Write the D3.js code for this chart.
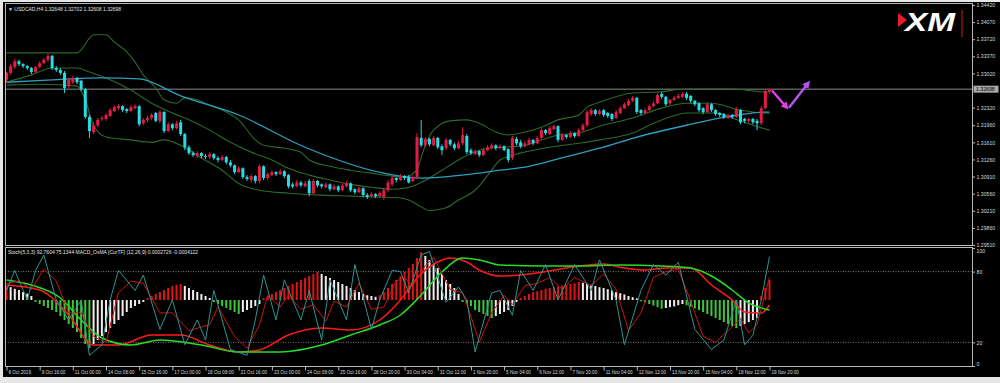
<!DOCTYPE html>
<html><head><meta charset="utf-8">
<script src="https://cdn.jsdelivr.net/npm/d3@7"></script>
<style>html,body{margin:0;padding:0;background:#e6e6e6;}svg{display:block;}</style>
</head><body><svg id="c" width="1000" height="383"></svg>
<script>
// ---------- DATA ----------
const symbolHeader = "USDCAD,H4 1.32648 1.32702 1.32608 1.32698";
const indicatorHeader = "Stoch(5,3,3) 92.7604 75.1344  MACD_OsMA [CurTF] (12,26,9) 0.0002726 -0.0004122";
const timeLabels = ["8 Oct 2019","9 Oct 16:00","11 Oct 00:00","14 Oct 08:00","15 Oct 16:00","17 Oct 00:00","18 Oct 08:00","21 Oct 16:00","23 Oct 00:00","24 Oct 08:00","25 Oct 16:00","28 Oct 20:00","30 Oct 04:00","31 Oct 12:00","1 Nov 20:00","5 Nov 04:00","6 Nov 12:00","7 Nov 20:00","11 Nov 04:00","12 Nov 12:00","13 Nov 20:00","15 Nov 04:00","18 Nov 12:00","19 Nov 20:00"];
const timeLabelBars = [0,8,16,24,32,40,48,56,64,72,80,88,96,104,112,120,128,136,144,152,160,168,176,184];
const priceTicks = [1.34420,1.34070,1.33720,1.33370,1.33020,1.32320,1.31960,1.31610,1.31260,1.30910,1.30560,1.30210,1.29860,1.29510];
const lastPrice = 1.32698;
const stochLevels = [20,80];
const stochTicks = [0,20,80,100];

const open = [1.3289,1.3303,1.3315,1.3327,1.3321,1.3317,1.3313,1.3305,1.3315,1.3323,
1.3330,1.3338,1.3313,1.3309,1.3303,1.3276,1.3284,1.3293,1.3287,1.3270,
1.3213,1.3182,1.3196,1.3209,1.3209,1.3215,1.3225,1.3231,1.3235,1.3229,
1.3225,1.3231,1.3235,1.3200,1.3207,1.3211,1.3221,1.3205,1.3223,1.3184,
1.3198,1.3190,1.3202,1.3178,1.3151,1.3139,1.3133,1.3139,1.3133,1.3131,
1.3137,1.3129,1.3125,1.3131,1.3120,1.3114,1.3100,1.3108,1.3090,1.3084,
1.3092,1.3082,1.3112,1.3088,1.3094,1.3100,1.3096,1.3102,1.3094,1.3075,
1.3071,1.3079,1.3071,1.3082,1.3057,1.3082,1.3075,1.3069,1.3075,1.3065,
1.3071,1.3063,1.3071,1.3077,1.3065,1.3059,1.3067,1.3053,1.3051,1.3055,
1.3051,1.3049,1.3063,1.3075,1.3088,1.3084,1.3092,1.3090,1.3082,1.3090,
1.3170,1.3155,1.3168,1.3155,1.3170,1.3153,1.3149,1.3166,1.3157,1.3149,
1.3159,1.3174,1.3145,1.3137,1.3143,1.3135,1.3145,1.3149,1.3155,1.3149,
1.3153,1.3147,1.3129,1.3168,1.3161,1.3153,1.3157,1.3166,1.3159,1.3170,
1.3186,1.3178,1.3188,1.3194,1.3166,1.3176,1.3172,1.3180,1.3174,1.3186,
1.3196,1.3219,1.3227,1.3219,1.3227,1.3221,1.3219,1.3211,1.3221,1.3231,
1.3237,1.3246,1.3252,1.3227,1.3221,1.3227,1.3235,1.3241,1.3260,1.3254,
1.3241,1.3248,1.3252,1.3254,1.3260,1.3256,1.3246,1.3241,1.3231,1.3223,
1.3239,1.3227,1.3221,1.3219,1.3211,1.3217,1.3213,1.3227,1.3209,1.3205,
1.3209,1.3205,1.3200,1.3231,1.32648];
const high = [1.3305,1.3321,1.3332,1.3330,1.3323,1.3319,1.3315,1.3317,1.3327,1.3334,
1.3342,1.3340,1.3317,1.3313,1.3307,1.3293,1.3297,1.3295,1.3289,1.3272,
1.3217,1.3202,1.3211,1.3215,1.3221,1.3231,1.3237,1.3239,1.3237,1.3231,
1.3237,1.3239,1.3237,1.3211,1.3215,1.3221,1.3223,1.3227,1.3225,1.3202,
1.3200,1.3205,1.3207,1.3180,1.3155,1.3143,1.3143,1.3141,1.3137,1.3141,
1.3139,1.3133,1.3135,1.3133,1.3125,1.3116,1.3112,1.3110,1.3094,1.3096,
1.3094,1.3116,1.3114,1.3100,1.3104,1.3102,1.3106,1.3104,1.3096,1.3079,
1.3084,1.3082,1.3082,1.3086,1.3086,1.3084,1.3077,1.3079,1.3077,1.3075,
1.3073,1.3077,1.3082,1.3079,1.3067,1.3071,1.3069,1.3057,1.3059,1.3057,
1.3061,1.3067,1.3084,1.3092,1.3090,1.3096,1.3094,1.3094,1.3094,1.3180,
1.3207,1.3172,1.3170,1.3174,1.3172,1.3157,1.3170,1.3168,1.3161,1.3164,
1.3192,1.3178,1.3149,1.3147,1.3145,1.3149,1.3155,1.3159,1.3157,1.3157,
1.3155,1.3149,1.3174,1.3172,1.3166,1.3164,1.3170,1.3168,1.3174,1.3190,
1.3188,1.3194,1.3198,1.3196,1.3180,1.3178,1.3184,1.3182,1.3190,1.3200,
1.3227,1.3231,1.3229,1.3229,1.3229,1.3223,1.3221,1.3227,1.3235,1.3243,
1.3250,1.3256,1.3254,1.3229,1.3231,1.3239,1.3246,1.3262,1.3264,1.3256,
1.3250,1.3256,1.3260,1.3264,1.3264,1.3258,1.3248,1.3243,1.3233,1.3243,
1.3241,1.3229,1.3223,1.3221,1.3219,1.3219,1.3233,1.3229,1.3211,1.3211,
1.3211,1.3209,1.3235,1.3270,1.32702];
const low = [1.3284,1.3299,1.3311,1.3317,1.3313,1.3309,1.3301,1.3303,1.3313,1.3321,
1.3325,1.3309,1.3305,1.3299,1.3262,1.3272,1.3280,1.3280,1.3266,1.3209,
1.3170,1.3178,1.3192,1.3205,1.3205,1.3213,1.3223,1.3227,1.3223,1.3221,
1.3223,1.3229,1.3194,1.3196,1.3202,1.3207,1.3202,1.3200,1.3180,1.3182,
1.3186,1.3188,1.3174,1.3145,1.3135,1.3131,1.3129,1.3129,1.3127,1.3127,
1.3125,1.3120,1.3123,1.3116,1.3110,1.3096,1.3098,1.3086,1.3082,1.3079,
1.3077,1.3077,1.3084,1.3084,1.3092,1.3092,1.3094,1.3088,1.3067,1.3067,
1.3069,1.3069,1.3069,1.3051,1.3055,1.3069,1.3067,1.3067,1.3061,1.3063,
1.3059,1.3061,1.3069,1.3059,1.3055,1.3057,1.3049,1.3045,1.3047,1.3047,
1.3049,1.3043,1.3059,1.3071,1.3079,1.3082,1.3084,1.3077,1.3079,1.3086,
1.3151,1.3151,1.3153,1.3153,1.3147,1.3135,1.3145,1.3153,1.3145,1.3147,
1.3155,1.3137,1.3135,1.3135,1.3131,1.3133,1.3143,1.3147,1.3145,1.3147,
1.3143,1.3120,1.3125,1.3155,1.3149,1.3151,1.3155,1.3155,1.3157,1.3168,
1.3176,1.3176,1.3186,1.3161,1.3164,1.3168,1.3170,1.3170,1.3172,1.3184,
1.3192,1.3215,1.3215,1.3217,1.3213,1.3211,1.3205,1.3209,1.3219,1.3229,
1.3235,1.3243,1.3219,1.3217,1.3219,1.3225,1.3233,1.3239,1.3250,1.3235,
1.3237,1.3246,1.3250,1.3252,1.3248,1.3241,1.3235,1.3223,1.3219,1.3221,
1.3223,1.3215,1.3213,1.3209,1.3209,1.3209,1.3211,1.3198,1.3200,1.3200,
1.3198,1.3186,1.3196,1.3229,1.32608];
const close = [1.3303,1.3317,1.3327,1.3321,1.3317,1.3313,1.3305,1.3315,1.3323,1.3330,
1.3338,1.3313,1.3309,1.3303,1.3272,1.3289,1.3293,1.3284,1.3270,1.3213,
1.3184,1.3196,1.3207,1.3211,1.3217,1.3227,1.3233,1.3235,1.3227,1.3225,
1.3233,1.3235,1.3198,1.3207,1.3211,1.3217,1.3205,1.3223,1.3184,1.3198,
1.3190,1.3200,1.3178,1.3151,1.3139,1.3135,1.3139,1.3133,1.3131,1.3137,
1.3129,1.3125,1.3131,1.3120,1.3114,1.3100,1.3108,1.3090,1.3086,1.3092,
1.3082,1.3112,1.3088,1.3096,1.3100,1.3096,1.3102,1.3092,1.3071,1.3071,
1.3079,1.3073,1.3077,1.3057,1.3082,1.3073,1.3071,1.3075,1.3065,1.3071,
1.3063,1.3073,1.3077,1.3063,1.3059,1.3067,1.3053,1.3049,1.3055,1.3051,
1.3057,1.3063,1.3079,1.3088,1.3084,1.3092,1.3088,1.3079,1.3090,1.3172,
1.3155,1.3168,1.3157,1.3170,1.3151,1.3145,1.3166,1.3157,1.3149,1.3159,
1.3176,1.3141,1.3139,1.3143,1.3135,1.3145,1.3151,1.3155,1.3149,1.3153,
1.3145,1.3125,1.3170,1.3159,1.3153,1.3159,1.3166,1.3159,1.3170,1.3186,
1.3180,1.3190,1.3194,1.3166,1.3176,1.3172,1.3180,1.3174,1.3186,1.3196,
1.3223,1.3227,1.3219,1.3225,1.3217,1.3215,1.3209,1.3223,1.3231,1.3239,
1.3246,1.3252,1.3223,1.3221,1.3227,1.3235,1.3241,1.3258,1.3254,1.3239,
1.3248,1.3252,1.3256,1.3260,1.3252,1.3246,1.3239,1.3227,1.3223,1.3239,
1.3227,1.3219,1.3217,1.3213,1.3217,1.3213,1.3229,1.3202,1.3205,1.3209,
1.3202,1.3200,1.3231,1.3266,1.32698];

// Bollinger bands (read at bar indices)
const bbUpperBars = [0,17,18,20,21,24,26,29,31,33,36,38,41,43,46,49,53,56,60,62,67,71,73,78,83,88,93,96,99,100,101,103,107,111,114,118,121,124,129,133,138,140,143,151,157,164,175,183,184];
const bbUpper = [1.3344,1.3344,1.3350,1.3374,1.3381,1.3381,1.3366,1.3346,1.3325,1.3299,1.3272,1.3248,1.3241,1.3252,1.3248,1.3237,1.3223,1.3207,1.3166,1.3155,1.3149,1.3141,1.3125,1.3112,1.3104,1.3098,1.3092,1.3090,1.3105,1.3130,1.3155,1.3186,1.3205,1.3207,1.3200,1.3182,1.3176,1.3180,1.3192,1.3207,1.3217,1.3233,1.3243,1.3262,1.3264,1.3270,1.3270,1.3264,1.3264];
const bbMiddleBars = [0,6,11,17,20,25,30,35,40,44,49,54,59,64,68,73,78,83,88,93,96,100,105,109,114,119,124,129,133,138,143,151,158,164,170,177,183,184];
const bbMiddle = [1.3284,1.3299,1.3313,1.3313,1.3305,1.3289,1.3268,1.3241,1.3221,1.3207,1.3186,1.3161,1.3141,1.3125,1.3108,1.3094,1.3084,1.3075,1.3069,1.3065,1.3067,1.3079,1.3104,1.3125,1.3145,1.3151,1.3153,1.3166,1.3176,1.3180,1.3194,1.3211,1.3231,1.3241,1.3241,1.3227,1.3221,1.3221];
const bbLowerBars = [0,8,17,19,21,24,30,35,38,42,47,52,56,61,68,76,83,90,95,97,100,102,106,109,113,117,119,124,131,138,143,151,156,160,164,171,175,180,184];
const bbLower = [1.3278,1.3280,1.3276,1.3248,1.3196,1.3172,1.3166,1.3161,1.3166,1.3155,1.3129,1.3104,1.3077,1.3063,1.3057,1.3053,1.3051,1.3049,1.3047,1.3043,1.3029,1.3021,1.3027,1.3043,1.3063,1.3104,1.3125,1.3139,1.3151,1.3159,1.3166,1.3180,1.3200,1.3213,1.3221,1.3221,1.3211,1.3196,1.3186];
// Moving average
const maBars = [0,11,23,32,42,56,72,91,100,105,112,119,126,133,143,153,164,175,183,184];
const maValues = [1.3284,1.3289,1.3293,1.3291,1.3256,1.3217,1.3151,1.3098,1.3088,1.3090,1.3096,1.3104,1.3112,1.3127,1.3149,1.3174,1.3196,1.3215,1.3223,1.3223];

// Stochastic (5,3,3)
const stochMainBars = [0,2,5,7,9,12,15,18,20,23,25,27,31,33,37,40,43,46,48,50,54,58,60,62,65,67,71,73,76,78,82,84,88,90,93,95,97,100,102,106,109,111,113,117,119,122,124,127,130,133,137,141,143,147,149,153,156,159,162,166,170,173,176,178,180,182,184];
const stochMain = [64,81,56,81,94,56,39,56,9,18,56,81,64,77,31,56,18,39,22,64,14,9,39,77,39,73,39,64,22,73,39,86,31,56,81,80,62,94,97,54,67,56,12,62,64,43,81,64,86,56,86,64,90,56,18,64,86,77,88,31,14,22,56,18,26,56,92.76];
const stochSignalBars = [0,3,6,9,12,15,18,21,24,27,30,33,37,40,44,47,49,51,55,58,61,63,66,68,71,74,77,79,82,85,88,91,94,96,98,101,103,107,110,112,114,117,120,122,125,128,131,134,137,141,144,147,150,153,156,159,162,165,168,171,174,177,179,181,184];
const stochSignal = [70,72,65,82,72,45,45,25,20,62,72,70,45,45,30,33,35,50,25,15,35,60,50,60,48,52,38,55,50,70,48,50,72,75,68,85,92,65,62,42,20,45,60,52,68,70,75,65,75,68,78,65,30,45,75,80,82,55,25,20,30,40,28,35,75.13];

// MACD (12,26,9), in 0.0001 units
const macdBars = [0,8,15,21,27,35,42,49,56,61,68,76,83,90,95,99,104,107,111,114,119,124,131,138,144,149,154,159,165,170,175,178,182,184];
const macdMain = [3.75,2.5,-3.75,-11.25,-11.25,-8.75,-8.75,-11.25,-13,-12.5,-8.75,-7,-7.5,-5,0,5.5,9.5,10.5,9.5,7.5,6,6.25,7.25,8.5,9,8,7.5,8,8,3.75,0,-3,-3.25,-1.25];
const macdSignalBars = [0,6,13,18,23,30,37,47,56,66,76,83,90,95,100,105,110,114,119,129,138,148,158,165,170,175,179,184];
const macdSignal = [5,3.75,0.5,-5,-9.5,-11.25,-10,-11.25,-13,-13,-11.25,-8.75,-6.25,-3.75,1.25,7,10.5,10,8.75,8.5,8.5,8.75,8.5,8,6,2.5,-0.75,-2.5];
// OsMA histogram per bar
const osma = [3.5,3.2,2.8,2.5,2.0,1.6,1.0,
-0.5,-1,-1.5,-2,-2.5,-3,-4,-5,-6,-7,-8,-9.5,-11,-12,
-11,-10,-9,-8,-7,-6,-5,-4,-3,-2,
-1.5,-1,-0.5,0.5,
1,1.5,2,2.5,3,3.5,3.8,4,
3.5,3,2.5,2,1.5,
1,0.5,-0.5,-1,-1.5,
-2,-2.5,-3,-3.5,
-3,-2.5,-2,-1.5,-1,
0.5,1,1.5,2,2.5,3,3.5,4,4.5,5,5.5,6,6.5,7,
6.5,6,5.5,5,4.5,4,3.5,3,2.5,2,1.5,1.2,1,0.8,
1.2,2,3,4,5,6,7,8,9,10.5,12,
11,10,9,8,6.5,5,4,3,1.5,
-0.5,-1,-1.5,-2.5,-3,-3.5,-4,-4.5,
-4,-3.5,-3,-2.5,-1.5,-0.5,
0.5,1,1.5,2,2.2,2.5,2.8,3,3.2,3.4,3.6,3.8,4,4.2,4.5,
4.3,4,3.8,3.5,3.2,3,2.7,2.4,2,1.7,1.4,1,0.7,0.4,
-0.3,-0.6,-1,-1.4,-1.8,-2.2,
-2,-1.8,-1.6,-1.3,-1,
-1.3,-1.7,-2.1,-2.5,-3,-3.5,-4,-4.5,-5,-5.5,-6,-6.5,-7,
-6.5,-6,-5.5,-5,-4.5,
1,3,5];

// Forecast arrows [bar, price]
const arrowDown = [[184.6,1.3267],[188,1.3234]];
const arrowUp = [[188.7,1.3232],[193.2,1.3281]];

// ---------- DRAW ----------
const svg = d3.select("#c");
const FONT = "'Liberation Sans', Arial, sans-serif";
svg.append("rect").attr("x",3).attr("y",2).attr("width",997).attr("height",375).attr("fill","#000");

const PL = 5.5, PR = 972.5, MT = 3.5, MB = 245.5, LT = 247.5, LB = 366.5;
const bars = d3.range(open.length);
const x = d3.scaleLinear().domain([0,184]).range([6.5,769.5]);
const y = d3.scaleLinear().domain([1.29510,1.34420]).range([245,5]);
const ys = d3.scaleLinear().domain([0,100]).range([366,248]);
const yo = d3.scaleLinear().domain([-10,10]).range([340,260]);

const defs = svg.append("defs");
defs.append("clipPath").attr("id","cm").append("rect").attr("x",PL+0.5).attr("y",MT+0.5).attr("width",PR-PL-1).attr("height",MB-MT-1);
defs.append("clipPath").attr("id","cl").append("rect").attr("x",PL+0.5).attr("y",LT+0.5).attr("width",PR-PL-1).attr("height",LB-LT-1);

// panel borders
svg.append("rect").attr("x",PL).attr("y",MT).attr("width",PR-PL).attr("height",MB-MT).attr("fill","none").attr("stroke","#b8b8b8");
svg.append("rect").attr("x",PL).attr("y",LT).attr("width",PR-PL).attr("height",LB-LT).attr("fill","none").attr("stroke","#b8b8b8");

// ---- main panel ----
const gm = svg.append("g").attr("clip-path","url(#cm)");
gm.append("line").attr("x1",PL).attr("x2",PR).attr("y1",y(lastPrice)).attr("y2",y(lastPrice)).attr("stroke","#8a8a8a").attr("stroke-width",1);

const knotLine = (idx, vals, ysc) => d3.line().x((d,i)=>x(idx[i])).y(d=>ysc(d)).curve(d3.curveMonotoneX)(vals);
[[bbUpperBars,bbUpper],[bbMiddleBars,bbMiddle],[bbLowerBars,bbLower]].forEach(([b,v])=>{
  gm.append("path").attr("d",knotLine(b,v,y)).attr("fill","none").attr("stroke","#2b6a2b").attr("stroke-width",1.1);
});
gm.append("path").attr("d",knotLine(maBars,maValues,y)).attr("fill","none").attr("stroke","#2e9ec0").attr("stroke-width",1.3);

const UP="#e51b46", DN="#26dde4";
const col = i => close[i]>=open[i]?UP:DN;
gm.selectAll("line.wick").data(bars).join("line").attr("class","wick")
  .attr("x1",i=>x(i)).attr("x2",i=>x(i)).attr("y1",i=>y(high[i])).attr("y2",i=>y(low[i]))
  .attr("stroke",col).attr("stroke-width",1);
gm.selectAll("rect.body").data(bars).join("rect").attr("class","body")
  .attr("x",i=>x(i)-1.5).attr("width",3)
  .attr("y",i=>y(Math.max(open[i],close[i])))
  .attr("height",i=>Math.max(1,Math.abs(y(open[i])-y(close[i]))))
  .attr("fill",col);

// arrows
defs.append("marker").attr("id","ah1").attr("viewBox","0 0 10 10").attr("refX",5).attr("refY",5)
  .attr("markerWidth",3.2).attr("markerHeight",3.2).attr("orient","auto")
  .append("path").attr("d","M0,0 L10,5 L0,10 z").attr("fill","#e43ee4");
defs.append("marker").attr("id","ah2").attr("viewBox","0 0 10 10").attr("refX",5).attr("refY",5)
  .attr("markerWidth",3.2).attr("markerHeight",3.2).attr("orient","auto")
  .append("path").attr("d","M0,0 L10,5 L0,10 z").attr("fill","#b257f2");
const al = d3.line().x(d=>x(d[0])).y(d=>y(d[1]));
svg.append("path").attr("d",al(arrowDown)).attr("stroke","#e43ee4").attr("stroke-width",2.4).attr("fill","none").attr("marker-end","url(#ah1)");
svg.append("path").attr("d",al(arrowUp)).attr("stroke","#b257f2").attr("stroke-width",2.4).attr("fill","none").attr("marker-end","url(#ah2)");

// header
svg.append("text").attr("x",8).attr("y",11).attr("fill","#e0e0e0").attr("font-family",FONT).attr("font-size",5)
  .text("\u25BC " + symbolHeader);

// XM logo
const logo = svg.append("g");
logo.append("polygon").attr("points","898,13 907,20 898,27").attr("fill","#e3202a");
logo.append("text").attr("x",905).attr("y",31).attr("fill","#ffffff").attr("font-family",FONT)
  .attr("font-weight","bold").attr("font-style","italic").attr("font-size",25)
  .attr("textLength",50).attr("lengthAdjust","spacingAndGlyphs").text("XM");
logo.append("line").attr("x1",962).attr("x2",962).attr("y1",10).attr("y2",37).attr("stroke","#b0161e").attr("stroke-width",1.2);

// price axis
const pa = svg.append("g").attr("transform",`translate(${PR},0)`)
  .call(d3.axisRight(y).tickValues(priceTicks).tickFormat(d3.format(".5f")).tickSize(2.5).tickPadding(1.5));
pa.select(".domain").remove();
pa.selectAll("line").attr("stroke","#b8b8b8");
pa.selectAll("text").attr("fill","#d8d8d8").attr("font-family",FONT).attr("font-size",5.2);
// current price label
svg.append("rect").attr("x",PR+1).attr("y",y(lastPrice)-3.5).attr("width",25).attr("height",7).attr("fill","#a8a8a8");
svg.append("text").attr("x",PR+3.5).attr("y",y(lastPrice)+1.9).attr("fill","#000").attr("font-family",FONT).attr("font-size",5.2).text(d3.format(".5f")(lastPrice));

// ---- lower panel ----
const gl = svg.append("g").attr("clip-path","url(#cl)");
gl.selectAll("line.lvl").data(stochLevels).join("line").attr("class","lvl")
  .attr("x1",PL).attr("x2",PR).attr("y1",d=>ys(d)).attr("y2",d=>ys(d))
  .attr("stroke","#9a9a9a").attr("stroke-width",0.8).attr("stroke-dasharray","1,1.5");

const histColor = i => {
  const v = osma[i], p = i>0?osma[i-1]:v;
  if (v>=0) return v>=p ? "#e01515" : "#f2ecec";
  return v<p ? "#3cc63c" : "#f2ecec";
};
gl.selectAll("rect.h").data(bars).join("rect").attr("class","h")
  .attr("x",i=>x(i)-1).attr("width",2)
  .attr("y",i=>Math.min(yo(0),yo(osma[i])))
  .attr("height",i=>Math.abs(yo(osma[i])-yo(0)))
  .attr("fill",histColor);

gl.append("path").attr("d",knotLine(macdBars,macdMain,yo)).attr("fill","none").attr("stroke","#ff1a1a").attr("stroke-width",1.5);
gl.append("path").attr("d",knotLine(macdSignalBars,macdSignal,yo)).attr("fill","none").attr("stroke","#24dd24").attr("stroke-width",1.5);

const sl = (idx,vals) => d3.line().x((d,i)=>x(idx[i])).y(d=>ys(d))(vals);
gl.append("path").attr("d",sl(stochSignalBars,stochSignal)).attr("fill","none").attr("stroke","#d01212").attr("stroke-width",1);
gl.append("path").attr("d",sl(stochMainBars,stochMain)).attr("fill","none").attr("stroke","#2f9494").attr("stroke-width",1);

svg.append("text").attr("x",8).attr("y",254).attr("fill","#e0e0e0").attr("font-family",FONT).attr("font-size",5)
  .text(indicatorHeader);

const sa = svg.append("g").attr("transform",`translate(${PR},0)`)
  .call(d3.axisRight(ys).tickValues(stochTicks).tickSize(2.5).tickPadding(1.5));
sa.select(".domain").remove();
sa.selectAll("line").attr("stroke","#b8b8b8");
sa.selectAll("text").attr("fill","#d8d8d8").attr("font-family",FONT).attr("font-size",5.2)
  .attr("dy",d=> d===100 ? "0.9em" : d===0 ? "-0.1em" : "0.32em");

// ---- time axis ----
const ta = svg.append("g").attr("transform",`translate(0,${LB})`)
  .call(d3.axisBottom(x).tickValues(timeLabelBars).tickFormat((d,i)=>timeLabels[i]).tickSize(4).tickPadding(0));
ta.select(".domain").remove();
ta.selectAll("line").attr("stroke","#b8b8b8");
ta.selectAll("text").attr("fill","#d8d8d8").attr("font-family",FONT).attr("font-size",4.6)
  .attr("text-anchor","start").attr("dx","1.5").attr("dy","0").attr("y",7);
</script>
</body></html>
